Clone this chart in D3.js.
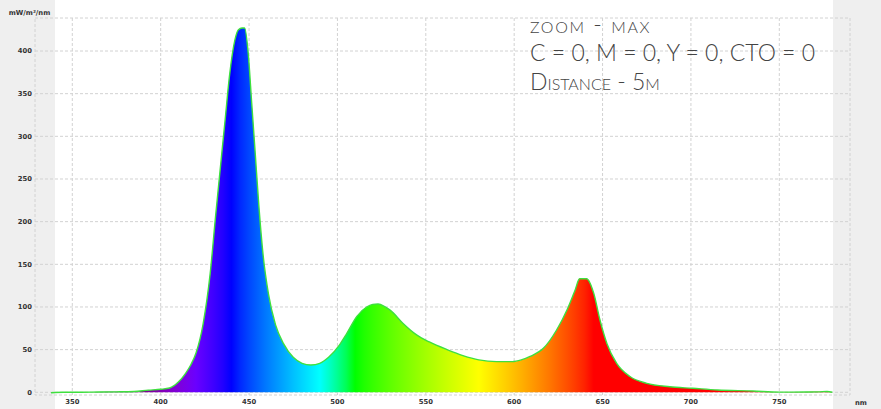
<!DOCTYPE html>
<html>
<head>
<meta charset="utf-8">
<script src="https://cdn.jsdelivr.net/npm/d3@7"></script>
<style>
  body { margin: 0; background: #fff; }
  svg { display: block; }
  .tick-label { font-family: "DejaVu Sans", sans-serif; font-size: 6.8px; font-weight: bold; fill: #333; }
  .note { font-family: Lato, sans-serif; font-weight: 300; fill: #444; font-variant: small-caps; }
</style>
</head>
<body>
<svg id="chart" width="881" height="409"></svg>
<script>
// spectrum readings (nm / mW/m2/nm)
var wavelengths = [338, 345, 355, 365, 375, 385, 393, 400, 405, 410, 414, 417, 420, 424, 428, 431, 434, 436.5, 439, 442, 444, 446, 447.5, 449.5, 451.5, 453.5, 455.5, 458, 461, 465, 469.5, 475, 480, 485, 490, 495, 501, 505, 511, 516.5, 520, 523, 527, 530, 537, 545, 552, 562, 571, 580, 590, 599, 604, 609, 616.5, 624, 630, 634.5, 637, 641, 645, 648.5, 652.5, 658, 665.5, 675, 688, 701, 715, 735, 750, 765, 772, 777, 780];
var irradiance = [-0.5, 0, 0, 0.3, 0.5, 1, 2.5, 3.5, 5, 12, 22, 32, 46, 80, 139, 205, 268, 320, 372, 413, 425, 427, 427, 398, 339, 280, 220, 160, 115, 79, 57, 41, 34, 32, 34, 41, 55, 68, 89, 100, 103, 103.5, 100, 96, 81, 67, 59, 50, 43, 38, 36, 36, 38, 42, 51.5, 73, 97, 120, 133, 133, 116, 85, 57, 34, 18.5, 10.5, 6.5, 4.7, 2.7, 1.5, 0.2, 0.3, 0.5, 1, 0];

var xTicks = [350, 400, 450, 500, 550, 600, 650, 700, 750];
var yTicks = [0, 50, 100, 150, 200, 250, 300, 350, 400];
var noteLines = ["zoom - max", "C = 0, M = 0, Y = 0, CTO = 0", "Distance - 5m"];

var svg = d3.select("#chart");

var x = d3.scaleLinear().domain([350, 750]).range([72.3, 779.3]);
var y = d3.scaleLinear().domain([0, 400]).range([392.3, 51]);

// gray side strips
svg.append("rect").attr("x", 0).attr("y", 0).attr("width", 55).attr("height", 409).attr("fill", "#efefef");
svg.append("rect").attr("x", 833).attr("y", 0).attr("width", 48).attr("height", 409).attr("fill", "#efefef");

var gridColor = "#d2d2d2";
var frame = { left: 35, right: 850, top: 18, bottom: 395 };

// grid
svg.append("g").selectAll("line").data(yTicks).join("line")
  .attr("x1", frame.left).attr("x2", frame.right)
  .attr("y1", function(d) { return y(d); }).attr("y2", function(d) { return y(d); })
  .attr("stroke", gridColor).attr("stroke-dasharray", "3,2");
svg.append("g").selectAll("line").data(xTicks).join("line")
  .attr("x1", function(d) { return x(d); }).attr("x2", function(d) { return x(d); })
  .attr("y1", frame.top).attr("y2", frame.bottom)
  .attr("stroke", gridColor).attr("stroke-dasharray", "3,2");
svg.append("rect")
  .attr("x", frame.left).attr("y", frame.top)
  .attr("width", frame.right - frame.left).attr("height", frame.bottom - frame.top)
  .attr("fill", "none").attr("stroke", gridColor).attr("stroke-dasharray", "3,2");

// wavelength -> colour (Bruton)
function waveColor(w) {
  var r = 0, g = 0, b = 0;
  if (w < 440) { r = -(w - 440) / 60; b = 1; }
  else if (w < 490) { g = (w - 440) / 50; b = 1; }
  else if (w < 510) { g = 1; b = -(w - 510) / 20; }
  else if (w < 580) { r = (w - 510) / 70; g = 1; }
  else if (w < 645) { r = 1; g = -(w - 645) / 65; }
  else { r = 1; }
  var f = 1;
  if (w < 420) f = 0.3 + 0.7 * (w - 380) / 40;
  var c = function(v) { return Math.round(255 * Math.pow(Math.max(0, v * f), 0.8)); };
  return d3.rgb(c(r), c(g), c(b)).toString();
}

var defs = svg.append("defs");
var grad = defs.append("linearGradient").attr("id", "spectrum")
  .attr("gradientUnits", "userSpaceOnUse")
  .attr("x1", x(380)).attr("x2", x(780)).attr("y1", 0).attr("y2", 0);
grad.selectAll("stop").data(d3.range(380, 781, 5)).join("stop")
  .attr("offset", function(d) { return (d - 380) / 400; })
  .attr("stop-color", function(d) { return waveColor(d); });

var pts = wavelengths.map(function(w, i) { return [w, irradiance[i]]; });

var area = d3.area()
  .x(function(d) { return x(d[0]); })
  .y0(y(0))
  .y1(function(d) { return y(d[1]); })
  .curve(d3.curveMonotoneX);

var line = d3.line()
  .x(function(d) { return x(d[0]); })
  .y(function(d) { return y(d[1]); })
  .curve(d3.curveMonotoneX);

svg.append("path").datum(pts).attr("d", area).attr("fill", "url(#spectrum)");
svg.append("path").datum(pts).attr("d", line)
  .attr("fill", "none").attr("stroke", "#3ee03e").attr("stroke-width", 1.4);

// axis labels
svg.append("g").selectAll("text").data(yTicks).join("text")
  .attr("class", "tick-label")
  .attr("x", 32).attr("y", function(d) { return y(d); })
  .attr("dy", "0.35em").attr("text-anchor", "end")
  .text(function(d) { return d; });
svg.append("g").selectAll("text").data(xTicks).join("text")
  .attr("class", "tick-label")
  .attr("x", function(d) { return x(d); }).attr("y", 402)
  .attr("dy", "0.35em").attr("text-anchor", "middle")
  .text(function(d) { return d; });
svg.append("text").attr("class", "tick-label").attr("x", 861).attr("y", 403)
  .attr("dy", "0.35em").attr("text-anchor", "middle").text("nm");
svg.append("text").attr("class", "tick-label").attr("x", 29.5).attr("y", 13)
  .attr("dy", "0.35em").attr("text-anchor", "middle").text("mW/m²/nm");

// annotation
svg.append("g").selectAll("text").data(noteLines).join("text")
  .attr("class", "note")
  .attr("x", 530)
  .attr("y", function(d, i) { return 32.5 + i * 28.5; })
  .attr("font-size", 23)
  .attr("letter-spacing", function(d, i) { return i === 0 ? 1.6 : 0; })
  .text(function(d) { return d; });
</script>
</body>
</html>
